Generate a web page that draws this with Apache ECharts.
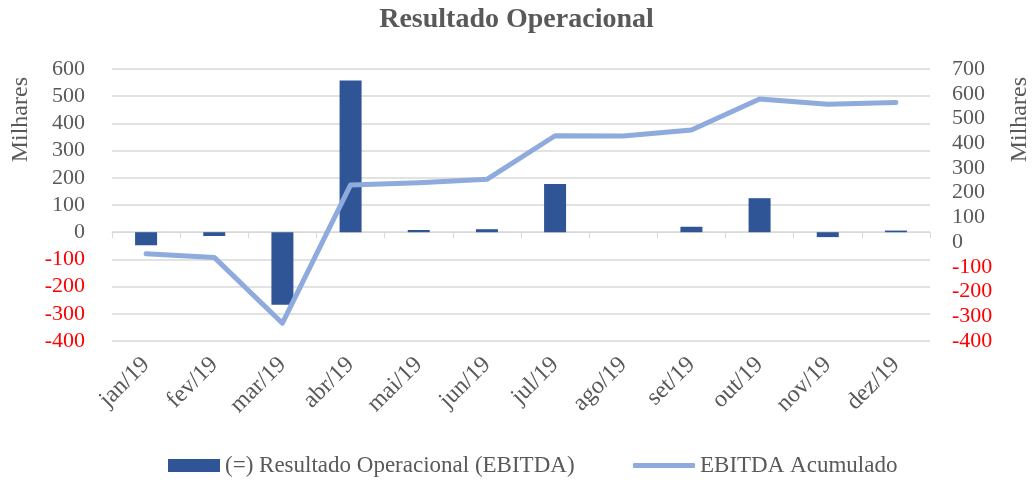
<!DOCTYPE html>
<html>
<head>
<meta charset="utf-8">
<script src="https://cdn.jsdelivr.net/npm/echarts@6/dist/echarts.min.js"></script>
<style>
html,body{margin:0;padding:0;background:#fff;}
#chart{width:1033px;height:480px;}
</style>
</head>
<body>
<div id="chart"></div>
<script>
var categories = ['jan/19','fev/19','mar/19','abr/19','mai/19','jun/19','jul/19','ago/19','set/19','out/19','nov/19','dez/19'];
var ebitda = [-48, -14, -267, 558, 8, 11, 177, 0, 20, 125, -18, 6];
var ebitdaAcumulado = [-47, -62, -328, 231, 240, 254, 430, 429, 453, 579, 557, 565];
var leftTicks = {min: -400, max: 600, interval: 100};
var rightTicks = {min: -400, max: 700, interval: 100};

var FONT = '"Liberation Serif", "DejaVu Serif", serif';
var GRAY = '#595959';
function labelColor(v){ return Number(v) < 0 ? '#FF0000' : GRAY; }

var chart = echarts.init(document.getElementById('chart'));
chart.setOption({
  animation: false,
  backgroundColor: '#fff',
  title: {
    text: 'Resultado Operacional',
    left: 'center', top: 1,
    textStyle: {fontFamily: FONT, fontSize: 28, fontWeight: 'bold', color: GRAY}
  },
  grid: {left: 112, right: 103, top: 69, bottom: 139, containLabel: false},
  legend: [
    {
      left: 163, top: 449, itemWidth: 52, itemHeight: 13,
      textStyle: {fontFamily: FONT, fontSize: 23, color: GRAY},
      data: [{name: '(=) Resultado Operacional (EBITDA)', icon: 'rect', itemStyle: {color: '#2F5597'}}]
    },
    {
      left: 628, top: 449, itemWidth: 62, itemHeight: 5,
      textStyle: {fontFamily: FONT, fontSize: 23, color: GRAY},
      data: [{name: 'EBITDA Acumulado', icon: 'roundRect', itemStyle: {color: '#8FAADC'}}]
    }
  ],
  xAxis: [
    {
      type: 'category', data: categories, position: 'bottom',
      axisLine: {show: false, onZero: false}, axisTick: {show: false},
      axisLabel: {rotate: 45, margin: 20, fontFamily: FONT, fontSize: 24, color: GRAY, interval: 0}
    },
    {
      type: 'category', data: categories, position: 'bottom',
      axisLine: {show: true, onZero: true, onZeroAxisIndex: 0, lineStyle: {color: '#D9D9D9', width: 1}},
      axisTick: {show: true, length: 6, lineStyle: {color: '#D9D9D9'}},
      axisLabel: {show: false}
    }
  ],
  yAxis: [
    {
      type: 'value', min: leftTicks.min, max: leftTicks.max, interval: leftTicks.interval,
      axisLine: {show: false}, axisTick: {show: false},
      splitLine: {show: true, lineStyle: {color: '#D9D9D9', width: 1.5}},
      axisLabel: {margin: 27, fontFamily: FONT, fontSize: 22, color: labelColor}
    },
    {
      type: 'value', min: rightTicks.min, max: rightTicks.max, interval: rightTicks.interval,
      position: 'right',
      axisLine: {show: false}, axisTick: {show: false}, splitLine: {show: false},
      axisLabel: {margin: 22, fontFamily: FONT, fontSize: 22, color: labelColor}
    }
  ],
  series: [
    {
      name: '(=) Resultado Operacional (EBITDA)', type: 'bar', data: ebitda,
      xAxisIndex: 0, yAxisIndex: 0, barWidth: 22,
      itemStyle: {color: '#2F5597'}
    },
    {
      name: 'EBITDA Acumulado', type: 'line', data: ebitdaAcumulado,
      xAxisIndex: 0, yAxisIndex: 1, symbol: 'none',
      lineStyle: {color: '#8FAADC', width: 5, cap: 'round', join: 'round'},
      itemStyle: {color: '#8FAADC'}
    }
  ],
  graphic: [
    {type: 'text', left: 9, top: 77, rotation: Math.PI/2,
     style: {text: 'Milhares', fontFamily: FONT, fontSize: 24, fill: GRAY}},
    {type: 'text', left: 1008, top: 77, rotation: Math.PI/2,
     style: {text: 'Milhares', fontFamily: FONT, fontSize: 24, fill: GRAY}}
  ]
});
</script>
</body>
</html>
